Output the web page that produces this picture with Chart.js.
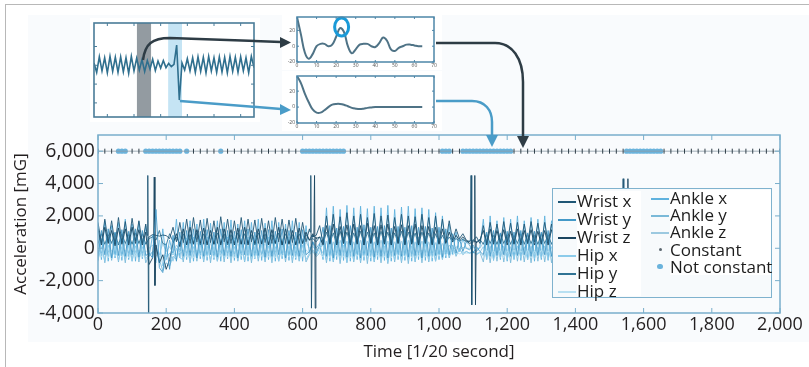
<!DOCTYPE html>
<html>
<head>
<meta charset="utf-8">
<script src="https://cdn.jsdelivr.net/npm/chart.js@4/dist/chart.umd.min.js"></script>
<style>
  html, body { margin: 0; padding: 0; background: #fff; }
  body { width: 809px; height: 367px; position: relative; overflow: hidden; font-family: "Open Sans", sans-serif; }
  #page-frame { position: absolute; left: 5px; top: 4px; width: 820px; height: 380px; border-left: 1.5px solid #b8b8b8; border-top: 1.5px solid #b8b8b8; }
  #tint { position: absolute; left: 28px; top: 15px; width: 781px; height: 327px; background: #f9fbfd; }
  canvas { position: absolute; }
  #main { left: 0; top: 0; }
  #inset-signal { left: 90px; top: 18px; background: #fff; }
  #inset-gray { left: 282px; top: 12px; background: #fff; }
  #inset-blue { left: 282px; top: 71px; background: #fff; }
  #arrows { position: absolute; left: 0; top: 0; pointer-events: none; }
  #legend { position: absolute; left: 552px; top: 188px; width: 218px; height: 108px; border: 1.5px solid #7fb2ce; background: #f7fafc; }
  #legend .col { position: absolute; background: #fff; }
  #legend .item { position: absolute; left: 0; height: 18px; line-height: 18px; font-size: 17px; color: #1d1d1d; white-space: nowrap; }
  #legend .swatch { position: absolute; }
</style>
</head>
<body>
<div id="page-frame"></div>
<div id="tint"></div>
<canvas id="main" width="809" height="367"></canvas>
<canvas id="inset-signal" width="170" height="104"></canvas>
<canvas id="inset-gray" width="160" height="58"></canvas>
<canvas id="inset-blue" width="160" height="60"></canvas>
<svg id="arrows" width="809" height="367">
  <path d="M143,60 C145,44 152,38 170,38 L281,42" fill="none" stroke="#2e3c45" stroke-width="2.5"/>
  <polygon points="280,37 291,42.5 280,48" fill="#2e3c45"/>
  <path d="M180,101 L281,109" fill="none" stroke="#4a9cc8" stroke-width="2.5"/>
  <polygon points="280,104 291,110 280,115" fill="#4a9cc8"/>
  <path d="M436,43 L495,43 C512,43 523,58 523,82 L523,137" fill="none" stroke="#2e3c45" stroke-width="2.5"/>
  <polygon points="517,136 529,136 523,148" fill="#2e3c45"/>
  <path d="M436,101 L472,101 C485,101 492,110 492,122 L492,136" fill="none" stroke="#4a9cc8" stroke-width="2.5"/>
  <polygon points="486,135 498,135 492,147" fill="#4a9cc8"/>
</svg>
<div id="legend"></div>
<script>
// main recording: one sample every 10 time units from 0 to 1340 (the rest sits behind the legend)
const sampleStep = 10
const xTickValues = [0, 200, 400, 600, 800, 1000, 1200, 1400, 1600, 1800, 2000]
const yTickValues = [-4000, -2000, 0, 2000, 4000, 6000]

const wristX = [
    1600, 300, 1800, 400, 1700, 250, 1900, 350, 1650, 300, 1850, 450, 1700, 300, 1500,
    700, 850, 800, 750, 820, 780, 600, 1300, 400, 1600,
    350, 1800, 300, 1900, 400, 1750, 250, 1850, 350, 1700, 300, 1950, 400, 1800, 300, 1700, 350, 1900, 250, 1800,
    400, 1750, 300, 1850, 350, 1700, 300, 1900, 400, 1800, 300, 1750, 350, 1850, 300, 1600, 400,
    1200, 700, 800, 1400,
    300, 2000, 350, 2100, 300, 1950, 400, 2200, 300, 2000, 350, 2100, 250, 1900, 400, 2150, 300, 2000, 350, 2050,
    300, 1900, 400, 2100, 300, 2000, 350, 1950, 300, 2100, 400, 1900, 300, 2000, 350, 1800, 400, 1700, 500, 1200,
    600, 900, 500,
    400, 500, 700, 300,
    1400, 300, 1600, 350, 1500, 300, 1650, 400, 1550, 300, 1600, 350, 1500, 300, 1650, 400, 1550, 300, 1600, 350,
    1500, 300,
]
const wristY = [
    -500, 1100, -400, 1200, -600, 1000, -450, 1150, -500, 1050, -400, 1200, -550, 1100, -450,
    -300, -600, 2400, -1200, -1500, 300, -1300, 800, -800, 1000,
    -500, 1100, -450, 1200, -600, 1050, -500, 1150, -400, 1000, -550, 1200, -450, 1100, -500, 1050, -600, 1150, -400, 1200,
    -500, 1000, -450, 1100, -550, 1150, -500, 1050, -400, 1200, -600, 1100, -450, 1000, -500, 1150, -400,
    -200, 400, -300, 200,
    1300, -500, 1400, -600, 1250, -450, 1350, -550, 1400, -500, 1300, -600, 1450, -450, 1300, -550, 1350, -500, 1400, -600,
    1250, -450, 1350, -500, 1300, -550, 1400, -450, 1300, -600, 1350, -500, 1250, -450, 1300, -550, 1200, -400, 900, -300,
    600, -200, 400,
    200, -300, 100, -200,
    -400, 1000, -500, 1100, -450, 950, -400, 1050, -500, 1000, -450, 1100, -400, 950, -500, 1050, -450, 1000, -400, 1100,
    -500, 950,
]
const wristZ = [
    1200, 200, 1300, 300, 1100, 150, 1250, 250, 1200, 200, 1300, 300, 1150, 200, 1000,
    -1000, -600, 200, -900, -400, -1300, -700, 300, 900, 100,
    1200, 200, 1300, 250, 1150, 300, 1250, 200, 1100, 250, 1300, 200, 1200, 300, 1150, 200, 1250, 250, 1300, 200,
    1100, 300, 1200, 250, 1250, 200, 1150, 300, 1300, 200, 1200, 250, 1100, 200, 1250, 300, 1000,
    500, 900, 600, 700,
    200, 1400, 250, 1500, 200, 1350, 300, 1450, 200, 1500, 250, 1400, 200, 1550, 300, 1400, 200, 1450, 250, 1500,
    200, 1350, 300, 1450, 200, 1400, 250, 1500, 200, 1400, 300, 1350, 200, 1300, 250, 1200, 300, 1000, 400, 800,
    500, 700, 450,
    300, 400, 350, 500,
    1100, 200, 1200, 250, 1100, 300, 1150, 200, 1050, 250, 1200, 200, 1100, 300, 1150, 200, 1050, 250, 1100, 200,
    1150, 250,
]
const hipX = [
    -700, 100, -800, 200, -650, 150, -750, 100, -700, 200, -800, 150, -700, 100, -650,
    -400, -200, -900, 500, -1100, -600, -300, -800, 0, -600,
    -700, 150, -800, 100, -650, 200, -750, 150, -700, 100, -800, 200, -650, 150, -700, 100, -750, 200, -800, 150,
    -700, 100, -650, 200, -750, 150, -700, 100, -800, 200, -650, 150, -700, 100, -750, 200, -700,
    -300, -100, -400, 0,
    200, -750, 250, -800, 150, -700, 200, -850, 250, -750, 200, -800, 150, -700, 250, -800, 200, -750, 150, -850,
    200, -700, 250, -800, 200, -750, 150, -800, 200, -700, 250, -750, 200, -800, 150, -650, 100, -500, 0, -400,
    -100, -300, -200,
    -300, -200, -350, -250,
    100, -650, 150, -700, 100, -600, 150, -700, 100, -650, 150, -600, 100, -700, 150, -650, 100, -600, 150, -700,
    100, -650,
]
const hipY = [
    300, 900, 250, 850, 300, 950, 200, 900, 300, 850, 250, 950, 300, 900, 250,
    600, 700, 500, 1100, 300, 200, 900, 400, 700, 300,
    900, 250, 850, 300, 950, 200, 900, 300, 850, 250, 950, 300, 900, 200, 850, 300, 950, 250, 900, 300,
    850, 200, 950, 300, 900, 250, 850, 300, 950, 200, 900, 300, 850, 250, 900, 300, 850,
    500, 600, 400, 700,
    250, 1000, 300, 950, 200, 1050, 300, 1000, 250, 950, 300, 1050, 200, 1000, 300, 950, 250, 1050, 300, 1000,
    200, 950, 300, 1050, 250, 1000, 300, 950, 200, 1000, 300, 950, 250, 900, 300, 800, 350, 700, 400, 600,
    450, 550, 400,
    450, 500, 400, 550,
    250, 850, 300, 800, 250, 900, 300, 850, 250, 800, 300, 900, 250, 850, 300, 800, 250, 900, 300, 850,
    250, 800,
]
const hipZ = [
    -100, -550, -150, -600, -100, -500, -200, -550, -100, -600, -150, -500, -100, -550, -150,
    -300, -400, -200, -600, -500, -350, -450, -300, -400, -250,
    -100, -550, -150, -600, -100, -500, -200, -550, -100, -600, -150, -500, -100, -550, -150, -600, -100, -500, -200, -550,
    -100, -600, -150, -500, -100, -550, -150, -600, -100, -500, -200, -550, -100, -600, -150, -500, -100,
    -300, -250, -350, -300,
    -550, -100, -600, -150, -500, -100, -550, -200, -600, -100, -500, -150, -550, -100, -600, -200, -500, -100, -550, -150,
    -600, -100, -500, -200, -550, -100, -600, -150, -500, -100, -550, -200, -600, -100, -500, -150, -450, -200, -400, -250,
    -350, -300, -300,
    -300, -250, -300, -280,
    -500, -100, -550, -150, -500, -100, -600, -150, -500, -100, -550, -150, -500, -100, -600, -150, -500, -100, -550, -150,
    -500, -100,
]
const ankleX = [
    1500, -700, 1700, -800, 1400, -600, 1600, -750, 1800, -700, 1500, -800, 1650, -650, 1400,
    -500, 800, 200, -900, 1200, -700, 500, -400, 1800, -600,
    1600, -700, 1700, -800, 1500, -650, 1800, -750, 1550, -700, 1700, -800, 1600, -650, 1750, -750, 1500, -700, 1700, -800,
    1600, -650, 1800, -750, 1550, -700, 1700, -800, 1600, -650, 1500, -750, 1700, -700, 1600, -800, 1400,
    -300, 400, 0, 300,
    -700, 2500, -800, 2600, -700, 2400, -750, 2650, -800, 2500, -700, 2600, -750, 2450, -800, 2600, -700, 2500, -750, 2650,
    -800, 2400, -700, 2550, -750, 2600, -800, 2450, -700, 2500, -750, 2400, -800, 2200, -700, 2000, -600, 1500, -400, 1000,
    -200, 600, 0,
    -100, 200, -200, 100,
    1800, -700, 2000, -750, 1700, -700, 1900, -800, 1800, -700, 2000, -750, 1700, -700, 1900, -800, 1800, -700, 2000, -750,
    1700, -700,
]
const ankleY = [
    -800, 600, -900, 700, -750, 650, -850, 600, -900, 700, -800, 650, -850, 600, -900,
    -400, -300, 0, -700, -1400, -900, -1100, -500, -700, 400,
    -850, 650, -900, 700, -800, 600, -850, 700, -900, 650, -800, 600, -850, 700, -900, 650, -800, 600, -850, 700,
    -900, 650, -800, 600, -850, 700, -900, 650, -800, 600, -850, 700, -900, 650, -800, 600, -850,
    -400, -200, -500, -300,
    700, -900, 800, -850, 750, -950, 700, -900, 800, -850, 750, -900, 700, -950, 800, -850, 700, -900, 750, -950,
    800, -850, 700, -900, 750, -950, 800, -850, 700, -900, 750, -850, 700, -800, 600, -700, 400, -600, 200, -500,
    0, -400, -200,
    -300, -200, -400, -250,
    -850, 600, -900, 650, -800, 600, -850, 700, -900, 600, -800, 650, -850, 600, -900, 700, -800, 600, -850, 650,
    -900, 600,
]
const ankleZ = [
    400, -300, 350, -250, 450, -300, 400, -350, 350, -300, 400, -250, 450, -300, 400,
    0, 200, -100, -400, 300, -200, 100, -300, 200, -100,
    400, -300, 350, -250, 450, -300, 400, -350, 350, -300, 400, -250, 450, -300, 400, -350, 350, -300, 400, -250,
    450, -300, 400, -350, 350, -300, 400, -250, 450, -300, 400, -350, 350, -300, 400, -250, 400,
    0, 100, -100, 50,
    -300, 450, -350, 400, -300, 500, -250, 450, -300, 400, -350, 500, -300, 450, -250, 400, -300, 500, -350, 450,
    -300, 400, -250, 450, -300, 500, -350, 400, -300, 450, -250, 400, -300, 350, -250, 300, -200, 200, -150, 100,
    -100, 50, 0,
    0, 50, -50, 0,
    350, -250, 400, -300, 350, -250, 400, -300, 350, -250, 400, -300, 350, -250, 400, -300, 350, -250, 400, -300,
    350, -250,
]

// short impacts between the regular samples, [time, mG]
const wristXEvents = [
    [144, 800], [146, 4500], [148, -4000], [149, 700],
    [622, 1000], [624, 4500], [626, -3700], [628, 800],
    [1092, 500], [1094, 4500], [1096, -3500], [1098, 400],
    [1400, 800], [1538, 800], [1540, 4300], [1542, -3000], [1544, 800], [1960, 800],
]
const wristZEvents = [
    [163, 300], [165, 4400], [167, -2300], [169, -500],
    [633, 700], [635, 4500], [637, -3700], [639, 700],
    [1103, 400], [1105, 4500], [1107, -3500], [1109, 400],
    [1400, 600], [1552, 600], [1554, 4300], [1556, -3000], [1558, 600], [1960, 600],
]

// markers along the 6,000 line
const markerLevel = 6000
const constantX = [
    0, 20, 40, 100, 120, 280, 300, 320, 340, 380, 400, 420, 440, 460, 480, 500, 520, 540, 560, 580,
    740, 760, 780, 800, 820, 840, 860, 880, 900, 920, 940, 960, 980, 1000, 1040, 1060,
    1220, 1240, 1260, 1280, 1300, 1320, 1340, 1360, 1380, 1400, 1420, 1440, 1460, 1480, 1500, 1520, 1540,
    1660, 1680, 1700, 1720, 1740, 1760, 1780, 1800, 1820, 1840, 1860, 1880, 1900, 1920, 1940, 1960, 1980, 2000,
]
const notConstantX = [
    60, 70, 80, 140, 150, 160, 170, 180, 190, 200, 210, 220, 230, 240, 260, 360,
    600, 610, 620, 630, 640, 650, 660, 670, 680, 690, 700, 710, 720,
    1010, 1020, 1030, 1070, 1080, 1090, 1100, 1110, 1120, 1130, 1140, 1150, 1160, 1170, 1180, 1190, 1200, 1210,
    1550, 1560, 1570, 1580, 1590, 1600, 1610, 1620, 1630, 1640, 1650,
]

// small inset: raw signal with the two analysis windows
const insetSignal = [
    0.5, -1.5, 1.8, -1.2, 1.6, -1.6, 1.9, -1.3, 1.7, -1.5, 1.8, -1.4, 1.6, -1.7, 1.9, -1.2,
    1.5, -1.0, 1.2, -1.3, 1.0, -0.8, 1.3, -1.1, 0.9, -0.6, 1.0, -0.5, 0.4, -0.3, 0.2, 4.3,
    -7.4, 0.5, -1.0, 1.4, -1.2, 1.6, -1.5, 1.8, -1.3, 1.7, -1.6, 1.9, -1.2, 1.6, -1.5, 1.8,
    -1.4, 1.7, -1.6, 1.9, -1.3, 1.7, -1.5, 1.8, -1.2, 1.6, -1.6, 1.9, -0.5,
]
const windowStart = [16.1, 27.8]
const windowEnd = [21.4, 33.0]

// autocorrelation of each window, lag 0..64
const lagValues = [0, 2, 4, 6, 8, 10, 12, 14, 16, 18, 20, 22, 24, 26, 28, 30, 32, 34, 36, 38, 40, 42, 44, 46, 48, 50, 52, 54, 56, 58, 60, 62, 64]
const grayWindowAcf = [37, 15, -8, -16, -10, 0, 3, 3, 0, 2, 12, 23, 18, 0, -9, -4, 2, 3, 3, 0, -1, 4, 11, 7, -4, -6, -2, 0, 2, 2, 1, 0, 0]
const blueWindowAcf = [39, 30, 17, 6, -3, -7, -7, -4, 0, 3, 4, 4, 3, 1, -1, -2, -2.5, -2, -1, -0.5, 0, 0, 0, 0.2, 0, 0, 0, 0.2, 0, 0, 0, 0, 0]
const insetXTicks = [0, 10, 20, 30, 40, 50, 60, 70]
const insetYTicks = [-20, 0, 20]

const seriesNames = ["Wrist x", "Wrist y", "Wrist z", "Hip x", "Hip y", "Hip z", "Ankle x", "Ankle y", "Ankle z"]
const seriesValues = [wristX, wristY, wristZ, hipX, hipY, hipZ, ankleX, ankleY, ankleZ]
const seriesEvents = [wristXEvents, [], wristZEvents, [], [], [], [], [], []]
const seriesColors = ["#1f5675", "#4399c8", "#1a4560", "#8ccbea", "#307394", "#b8e0f2", "#5fb2de", "#7ab9d8", "#9cc9e0"]

const textColor = "#231f20"
const fontFamily = "'Open Sans', sans-serif"

function buildSeries(values, events) {
    const points = values.map((v, i) => ({ x: i * sampleStep, y: v }))
    for (const [x, y] of events) points.push({ x, y })
    return points.sort((a, b) => a.x - b.x)
}

function fixedTicks(values) {
    return (scale) => {
        scale.ticks = values.map((value) => ({ value }))
    }
}

const framePlugin = {
    id: "frame",
    afterDraw(chart, args, opts) {
        const { ctx, chartArea: a, scales } = chart
        ctx.save()
        ctx.strokeStyle = opts.color
        ctx.lineWidth = opts.width
        ctx.strokeRect(a.left, a.top, a.right - a.left, a.bottom - a.top)
        const len = opts.tickLength || 0
        if (len > 0) {
            ctx.lineWidth = 1
            ctx.beginPath()
            for (const t of scales.x.ticks) {
                const px = scales.x.getPixelForValue(t.value)
                ctx.moveTo(px, a.bottom)
                ctx.lineTo(px, a.bottom - len)
                ctx.moveTo(px, a.top)
                ctx.lineTo(px, a.top + len)
            }
            for (const t of scales.y.ticks) {
                const py = scales.y.getPixelForValue(t.value)
                ctx.moveTo(a.left, py)
                ctx.lineTo(a.left + len, py)
                ctx.moveTo(a.right, py)
                ctx.lineTo(a.right - len, py)
            }
            ctx.stroke()
        }
        ctx.restore()
    },
}

const windowsPlugin = {
    id: "windows",
    beforeDatasetsDraw(chart, args, opts) {
        const { ctx, chartArea: a, scales } = chart
        ctx.save()
        windowStart.forEach((start, i) => {
            const x0 = scales.x.getPixelForValue(start)
            const x1 = scales.x.getPixelForValue(windowEnd[i])
            ctx.fillStyle = opts.colors[i]
            ctx.fillRect(x0, a.top, x1 - x0, a.bottom - a.top)
        })
        ctx.restore()
    },
}

const peakPlugin = {
    id: "peak",
    afterDatasetsDraw(chart) {
        const { ctx, scales } = chart
        let best = -1
        lagValues.forEach((lag, i) => {
            if (lag > 10 && (best < 0 || grayWindowAcf[i] > grayWindowAcf[best])) best = i
        })
        const px = scales.x.getPixelForValue(lagValues[best] + 0.8)
        const py = scales.y.getPixelForValue(grayWindowAcf[best]) - 1
        ctx.save()
        ctx.strokeStyle = "#1a9ad8"
        ctx.lineWidth = 3
        ctx.beginPath()
        ctx.ellipse(px, py, 7, 9, 0, 0, Math.PI * 2)
        ctx.stroke()
        ctx.restore()
    },
}

const lineDatasets = seriesNames.map((name, i) => ({
    label: name,
    data: buildSeries(seriesValues[i], seriesEvents[i]),
    borderColor: seriesColors[i],
    backgroundColor: seriesColors[i],
    borderWidth: 0.9,
    pointRadius: 0,
    tension: 0,
}))

const mainChart = new Chart(document.getElementById("main"), {
    type: "line",
    data: {
        datasets: [
            ...lineDatasets,
            {
                label: "Constant",
                data: constantX.map((x) => ({ x, y: markerLevel })),
                showLine: true,
                borderColor: "#8d9ca6",
                borderWidth: 0.8,
                pointStyle: "line",
                rotation: 90,
                pointRadius: 2.5,
                pointBorderColor: "#2f3e48",
                pointBorderWidth: 1,
                backgroundColor: "#5b6770",
            },
            {
                type: "scatter",
                label: "Not constant",
                data: notConstantX.map((x) => ({ x, y: markerLevel })),
                pointRadius: 2.6,
                backgroundColor: "#6ab3dc",
                borderWidth: 0,
            },
        ],
    },
    options: {
        responsive: false,
        animation: false,
        devicePixelRatio: 1,
        layout: { padding: { left: 10, top: 135, right: 29, bottom: 0 } },
        plugins: {
            legend: { display: false },
            tooltip: { enabled: false },
            frame: { color: "#79aecb", width: 1.5, tickLength: 5 },
        },
        scales: {
            x: {
                type: "linear",
                min: 0,
                max: 2000,
                afterBuildTicks: fixedTicks(xTickValues),
                afterFit: (scale) => { scale.height = 54 },
                grid: { display: false, drawTicks: false },
                border: { display: false },
                ticks: {
                    padding: 1,
                    color: textColor,
                    font: { family: fontFamily, size: 18 },
                    maxRotation: 0,
                    autoSkip: false,
                    callback: (v) => v.toLocaleString("en-US"),
                },
                title: {
                    display: true,
                    text: "Time [1/20 second]",
                    color: textColor,
                    font: { family: fontFamily, size: 17 },
                    padding: { top: 0, bottom: 5 },
                },
            },
            y: {
                min: -4000,
                max: 7000,
                afterBuildTicks: fixedTicks(yTickValues),
                afterFit: (scale) => { scale.width = 88 },
                grid: { display: false, drawTicks: false },
                border: { display: false },
                ticks: {
                    padding: 3,
                    color: textColor,
                    font: { family: fontFamily, size: 19.5 },
                    callback: (v) => v.toLocaleString("en-US"),
                },
                title: {
                    display: true,
                    text: "Acceleration [mG]",
                    color: textColor,
                    font: { family: fontFamily, size: 17 },
                    padding: { top: 1, bottom: 0 },
                },
            },
        },
    },
    plugins: [framePlugin],
})

new Chart(document.getElementById("inset-signal"), {
    type: "line",
    data: {
        datasets: [{ data: insetSignal.map((y, x) => ({ x, y })), borderColor: "#2f6f8e", borderWidth: 1.6, pointRadius: 0 }],
    },
    options: {
        responsive: false,
        animation: false,
        devicePixelRatio: 1,
        layout: { padding: { left: 4, top: 5, right: 6, bottom: 5 } },
        plugins: {
            legend: { display: false },
            tooltip: { enabled: false },
            frame: { color: "#4a7c98", width: 1.6, tickLength: 3 },
            windows: { colors: ["rgba(128,138,145,0.85)", "rgba(150,205,235,0.55)"] },
        },
        scales: {
            x: { type: "linear", display: false, min: 0, max: 60, afterBuildTicks: fixedTicks([5, 15, 25, 35, 45, 55]) },
            y: { display: false, min: -11, max: 9, afterBuildTicks: fixedTicks([-8, -4, 0, 4]) },
        },
    },
    plugins: [framePlugin, windowsPlugin],
})

function acfChart(canvasId, values, extraPlugins, yMax) {
    return new Chart(document.getElementById(canvasId), {
        type: "line",
        data: {
            datasets: [{
                data: lagValues.map((x, i) => ({ x, y: values[i] })),
                borderColor: "#4f7386",
                borderWidth: 2,
                pointRadius: 0,
                tension: 0.4,
            }],
        },
        options: {
            responsive: false,
            animation: false,
            devicePixelRatio: 1,
            layout: { padding: { left: 0, top: 5, right: 8, bottom: 0 } },
            plugins: {
                legend: { display: false },
                tooltip: { enabled: false },
                frame: { color: "#4d86a8", width: 1.5, tickLength: 2 },
            },
            scales: {
                x: {
                    type: "linear",
                    min: 0,
                    max: 70,
                    afterBuildTicks: fixedTicks(insetXTicks),
                    afterFit: (scale) => { scale.height = 8 },
                    grid: { display: false, drawTicks: false },
                    border: { display: false },
                    ticks: { padding: 1, color: "#555", font: { family: fontFamily, size: 5 }, autoSkip: false, maxRotation: 0 },
                },
                y: {
                    min: -20,
                    max: yMax,
                    afterBuildTicks: fixedTicks(insetYTicks),
                    afterFit: (scale) => { scale.width = 15 },
                    grid: { display: false, drawTicks: false },
                    border: { display: false },
                    ticks: { padding: 2, color: "#555", font: { family: fontFamily, size: 5 } },
                },
            },
        },
        plugins: [framePlugin, ...extraPlugins],
    })
}

acfChart("inset-gray", grayWindowAcf, [peakPlugin], 37)
acfChart("inset-blue", blueWindowAcf, [], 39)

// legend box laid over the right part of the plot, built from the chart's datasets
function buildLegend(chart) {
    const box = document.getElementById("legend")
    const columns = [
        { swatchLeft: 5, textLeft: 24, firstRow: 3, rowStep: 18, width: 64, top: 2, height: 105 },
        { swatchLeft: 98, textLeft: 117, firstRow: 0, rowStep: 17.2, width: 101, top: 1, height: 85 },
    ]
    columns.forEach((c) => {
        const bg = document.createElement("div")
        bg.className = "col"
        bg.style.left = c.textLeft + "px"
        bg.style.top = c.top + "px"
        bg.style.width = c.width + "px"
        bg.style.height = c.height + "px"
        box.appendChild(bg)
    })
    chart.data.datasets.forEach((ds, i) => {
        const c = columns[i < 6 ? 0 : 1]
        const row = i < 6 ? i : i - 6
        const top = c.firstRow + row * c.rowStep
        const sw = document.createElement("div")
        sw.className = "swatch"
        if (ds.pointRadius === 0) {
            sw.style.left = c.swatchLeft + "px"
            sw.style.top = top + 9 + "px"
            sw.style.width = "18px"
            sw.style.height = "1.5px"
            sw.style.background = ds.borderColor
        } else {
            const r = ds.label === "Constant" ? 1.5 : 2.6
            sw.style.left = c.swatchLeft + 9 - r + "px"
            sw.style.top = top + 9 - r + "px"
            sw.style.width = r * 2 + "px"
            sw.style.height = r * 2 + "px"
            sw.style.borderRadius = "50%"
            sw.style.background = ds.backgroundColor
        }
        box.appendChild(sw)
        const item = document.createElement("div")
        item.className = "item"
        item.style.left = c.textLeft + "px"
        item.style.top = top + "px"
        item.textContent = ds.label
        box.appendChild(item)
    })
}

buildLegend(mainChart)
</script>
</body>
</html>
